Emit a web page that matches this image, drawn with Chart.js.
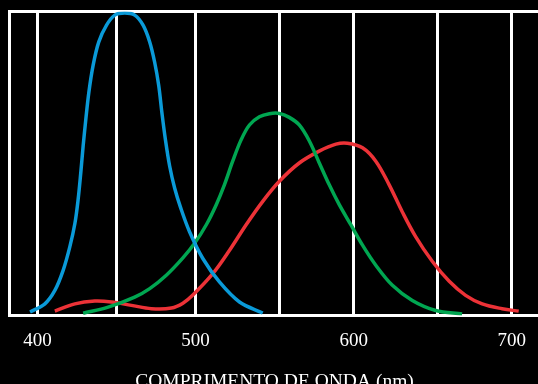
<!DOCTYPE html>
<html>
<head>
<meta charset="utf-8">
<script src="https://cdn.jsdelivr.net/npm/chart.js@4/dist/chart.umd.min.js"></script>
<style>
html, body { margin: 0; padding: 0; background: #000; overflow: hidden; width: 538px; height: 384px; }
canvas { display: block; }
</style>
</head>
<body>
<canvas id="cones" width="540" height="400"></canvas>
<script>
// cone sensitivity curves (wavelength in nm, relative sensitivity)
const blueWave = [395.3, 404.7, 411, 416.3, 420.5, 423.7, 425.7, 427.4, 428.9, 430.6, 432.5, 435.2, 438.8, 443.7, 448.9, 455.2,
    461.5, 466.8, 471, 474.1, 476.7, 478.7, 480.9, 483.6, 486.8, 490.5, 496.2, 504.6, 515.1, 527.8, 542.5];
const blueSens = [0.012, 0.039, 0.083, 0.15, 0.227, 0.304, 0.381, 0.47, 0.558, 0.646, 0.734, 0.823, 0.9, 0.955, 0.988, 0.995,
    0.988, 0.955, 0.9, 0.834, 0.757, 0.668, 0.58, 0.492, 0.419, 0.356, 0.276, 0.188, 0.111, 0.045, 0.009];

const greenWave = [428.9, 444.7, 461.5, 471, 481.5, 492, 499.4, 506.8, 513.1, 518.3, 523.5, 528.8, 534.1, 540.4, 546.7,
    553, 559.3, 565.6, 571.9, 578.2, 584.5, 590.9, 598.2, 605.6, 614, 624.5, 637.1, 651.9, 668.6];
const greenSens = [0.008, 0.028, 0.061, 0.089, 0.133, 0.19, 0.238, 0.299, 0.365, 0.431, 0.508, 0.578, 0.627, 0.654, 0.664,
    0.665, 0.652, 0.627, 0.575, 0.503, 0.431, 0.365, 0.299, 0.232, 0.166, 0.1, 0.05, 0.017, 0.006];

const redWave = [411, 423.7, 436.3, 446.8, 459.4, 472.1, 484.7, 492, 498.3, 510.9, 521.5, 532, 542.5, 553, 565.6, 578.2,
    588.8, 596.1, 605.6, 614, 622.4, 630.8, 639.2, 649.7, 660.3, 670.8, 681.3, 693.9, 704.4];
const redSens = [0.015, 0.039, 0.048, 0.045, 0.034, 0.023, 0.025, 0.041, 0.068, 0.138, 0.215, 0.299, 0.376, 0.442, 0.502, 0.541,
    0.564, 0.567, 0.552, 0.508, 0.431, 0.341, 0.26, 0.179, 0.114, 0.067, 0.039, 0.023, 0.015];

// vertical lines and the ones that get a label
const gridWave = [400, 450, 500, 553, 600, 653, 700];
const labelWave = [400, 500, 600, 700];

const axisTitle = "COMPRIMENTO DE ONDA (nm)";

const toPoints = (xs, ys) => xs.map((x, i) => ({ x, y: ys[i] }));

const curve = (xs, ys, color) => ({
    data: toPoints(xs, ys),
    borderColor: color,
    borderWidth: 3.5,
    tension: 0.35,
    capBezierPoints: false,
    pointRadius: 0,
    fill: false
});

const serif = { family: "'Liberation Serif', 'Times New Roman', serif", size: 19, weight: "normal" };

new Chart(document.getElementById("cones"), {

    type: "line",

    data: {
        datasets: [
            curve(blueWave, blueSens, "#0a9ad8"),
            curve(greenWave, greenSens, "#00a651"),
            curve(redWave, redSens, "#ec3237")
        ]
    },

    options: {
        responsive: false,
        animation: false,
        layout: { padding: { left: 9, top: 11.5, right: 0, bottom: 0 } },
        plugins: {
            legend: { display: false },
            tooltip: { enabled: false },
            title: {
                display: true,
                position: "bottom",
                text: axisTitle,
                color: "#fff",
                font: { ...serif, size: 19.5 },
                padding: { top: 0, bottom: 6.5 }
            }
        },
        scales: {
            x: {
                type: "linear",
                min: 382,
                max: 717,
                afterBuildTicks: s => { s.ticks = gridWave.map(v => ({ value: v })); },
                afterFit: s => { s.height = 54.4; },
                grid: { color: "#fff", lineWidth: 3, drawTicks: false },
                border: { color: "#fff", width: 3 },
                ticks: {
                    autoSkip: false,
                    maxRotation: 0,
                    padding: 14,
                    color: "#fff",
                    font: serif,
                    callback: v => labelWave.includes(v) ? String(v) : ""
                }
            },
            y: {
                min: 0,
                max: 1,
                afterBuildTicks: s => { s.ticks = [{ value: 0 }, { value: 1 }]; },
                afterFit: s => { s.width = 0; },
                ticks: { display: false },
                grid: { color: "#fff", lineWidth: 3, drawTicks: false },
                border: { color: "#fff", width: 3 }
            }
        }
    }

});
</script>
</body>
</html>
